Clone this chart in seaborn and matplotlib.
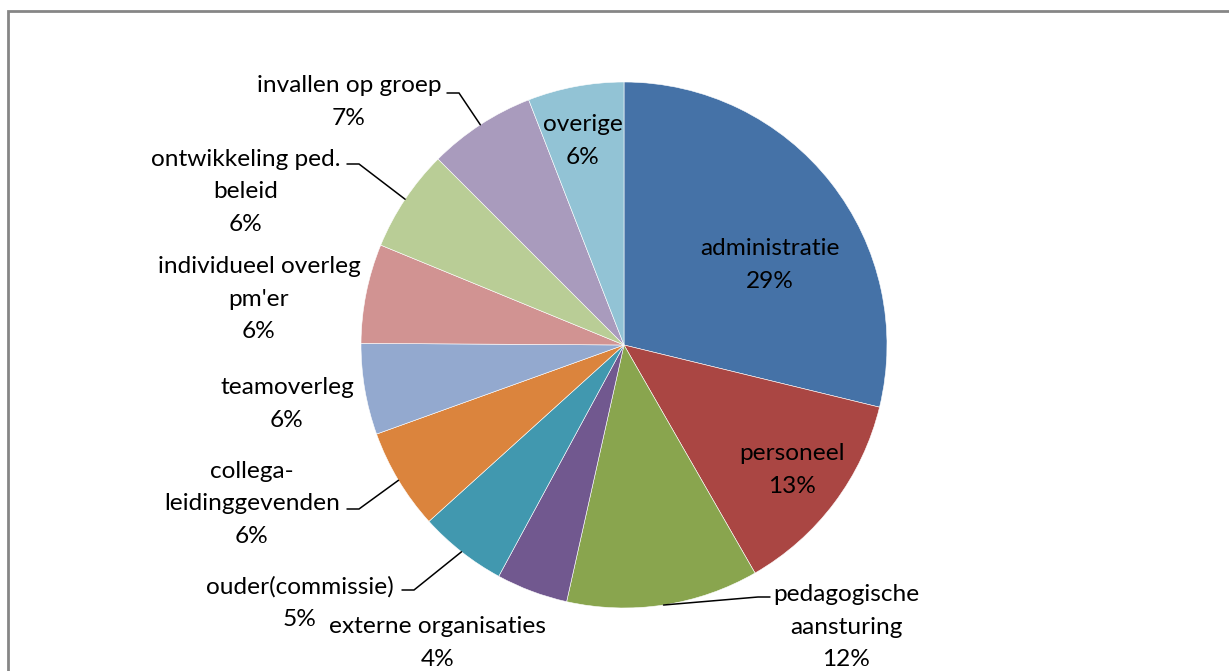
import matplotlib.pyplot as plt
import seaborn as sns
from matplotlib.patches import Rectangle
import numpy as np

categories = [
    "administratie", "personeel", "pedagogische\naansturing",
    "externe organisaties", "ouder(commissie)", "collega-\nleidinggevenden",
    "teamoverleg", "individueel overleg\npm'er", "ontwikkeling ped.\nbeleid",
    "invallen op groep", "overige",
]
shares = [28.8, 12.9, 11.8, 4.4, 5.4, 6.2, 5.6, 6.1, 6.3, 6.6, 5.9]
colors = [
    "#4572A7", "#AA4643", "#89A54E", "#71588F", "#4198AF", "#DB843D",
    "#93A9CF", "#D19392", "#B9CD96", "#A99BBD", "#92C3D5",
]

# figure geometry (pixels)
W, H = 1229, 671
CX, CY, R = 624, 345, 263

# label block centres (px) and leader start next to the text (px, or None)
label_px = [
    (770, 265), (792, 470), (846, 627), (438, 643), (300, 603), (252, 504),
    (287, 404), (259, 299), (246, 192), (349, 102), (583, 141),
]
leader_px = [
    None, None, (770, 597), None, (402, 590), (347, 509),
    None, None, (347, 164), (447, 93), None,
]


def to_data(px, py):
    return (px - CX) / R, (CY - py) / R


sns.set_theme()
sns.set_style("white")
plt.rcParams["font.family"] = ["Lato", "DejaVu Sans"]

fig = plt.figure(figsize=(W / 100, H / 100), dpi=100)
ax = fig.add_axes([0, 0, 1, 1])

wedges, _ = ax.pie(
    shares,
    colors=sns.color_palette(colors),
    startangle=90,
    counterclock=False,
    radius=1,
    wedgeprops={"edgecolor": "white", "linewidth": 0.4},
)

ax.set_xlim(-CX / R, (W - CX) / R)
ax.set_ylim((CY - H) / R, CY / R)

for w, cat, val, lp, ld in zip(wedges, categories, shares, label_px, leader_px):
    x, y = to_data(*lp)
    ax.text(x, y, f"{cat}\n{round(val)}%", ha="center", va="center",
            fontsize=17.6, linespacing=1.68, color="black")
    if ld is not None:
        mid = np.deg2rad((w.theta1 + w.theta2) / 2)
        ex, ey = np.cos(mid), np.sin(mid)
        sx, sy = to_data(*ld)
        step = 12 / R if ex < 0 else -12 / R
        ax.plot([sx, sx + step, ex], [sy, sy, ey], color="black", lw=1.1,
                solid_joinstyle="miter")

fig.patches.append(Rectangle((8 / W, -0.1), 1.2, 1 - 11 / H + 0.1,
                             transform=fig.transFigure, fill=False,
                             edgecolor="#868686", linewidth=2, clip_on=False))

fig.savefig("out.png", dpi=100)
